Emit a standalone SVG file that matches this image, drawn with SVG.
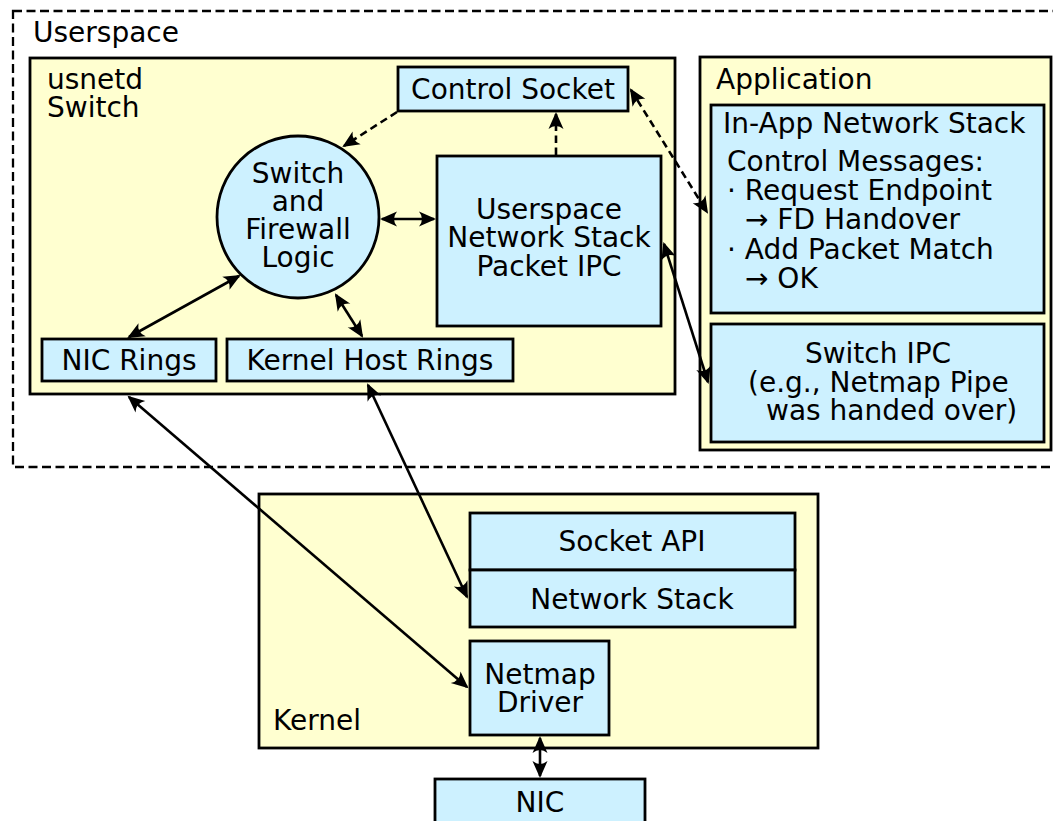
<svg xmlns="http://www.w3.org/2000/svg" width="1053" height="821" viewBox="0 0 1053 821">
  <defs>
    <style>
      .frame { fill: none; stroke: #000; stroke-width: 2.3; stroke-dasharray: 9 4.5; }
      .area { fill: #ffffd0; stroke: #000; stroke-width: 2.8; }
      .node { fill: #cdf1ff; stroke: #000; stroke-width: 2.8; }
      .lbl { font-family: "DejaVu Sans", "Noto Sans", sans-serif; font-size: 28px; fill: #000; }
      .mid { text-anchor: middle; }
      .link { fill: none; stroke: #000; stroke-width: 2.6; marker-end: url(#arrow); }
      .both { marker-start: url(#arrow); }
      .dash { stroke-dasharray: 7.5 4.5; }
    </style>
    <marker id="arrow" viewBox="-18 -10 22 20" refX="0" refY="0" markerWidth="22" markerHeight="20" markerUnits="userSpaceOnUse" orient="auto-start-reverse">
      <path d="M2,0 L-15,-7.5 Q-9,0 -15,7.5 Z" fill="#000"/>
    </marker>
  </defs>

  <rect width="1053" height="821" fill="#fff"/>

  <!-- userspace boundary -->
  <g id="userspace">
    <rect class="frame" x="13" y="11" width="1060" height="456"/>
    <text class="lbl" x="33" y="42">Userspace</text>
  </g>

  <!-- usnetd switch process -->
  <g id="usnetd">
    <rect class="area" x="30" y="58" width="645" height="336"/>
    <text class="lbl" x="47" y="89">usnetd</text>
    <text class="lbl" x="47" y="117">Switch</text>
  </g>

  <g id="control-socket">
    <rect class="node" x="398" y="67" width="230" height="44"/>
    <text class="lbl mid" x="513" y="99">Control Socket</text>
  </g>

  <g id="switch-logic">
    <circle class="node" cx="298" cy="217" r="81"/>
    <text class="lbl mid" x="298" y="183">Switch</text>
    <text class="lbl mid" x="298" y="211">and</text>
    <text class="lbl mid" x="298" y="239">Firewall</text>
    <text class="lbl mid" x="298" y="267">Logic</text>
  </g>

  <g id="userspace-stack-ipc">
    <rect class="node" x="437" y="156" width="224" height="170"/>
    <text class="lbl mid" x="549" y="219">Userspace</text>
    <text class="lbl mid" x="549" y="247">Network Stack</text>
    <text class="lbl mid" x="549" y="276">Packet IPC</text>
  </g>

  <g id="nic-rings">
    <rect class="node" x="42" y="339" width="174" height="42"/>
    <text class="lbl mid" x="129" y="370">NIC Rings</text>
  </g>

  <g id="host-rings">
    <rect class="node" x="227" y="339" width="286" height="42"/>
    <text class="lbl mid" x="370" y="370">Kernel Host Rings</text>
  </g>

  <!-- application process -->
  <g id="application">
    <rect class="area" x="700" y="57" width="351" height="393"/>
    <text class="lbl" x="716" y="89">Application</text>
  </g>

  <g id="in-app-stack">
    <rect class="node" x="711" y="105" width="333" height="208"/>
    <text class="lbl" x="723" y="133">In-App Network Stack</text>
    <text class="lbl" x="727" y="171">Control Messages:</text>
    <text class="lbl" x="727" y="200">· Request Endpoint</text>
    <text class="lbl" x="745" y="229">→ FD Handover</text>
    <text class="lbl" x="727" y="259">· Add Packet Match</text>
    <text class="lbl" x="745" y="288">→ OK</text>
  </g>

  <g id="switch-ipc">
    <rect class="node" x="711" y="324" width="333" height="118"/>
    <text class="lbl mid" x="878" y="363">Switch IPC</text>
    <text class="lbl" x="748" y="392">(e.g., Netmap Pipe</text>
    <text class="lbl" x="766" y="420">was handed over)</text>
  </g>

  <!-- kernel -->
  <g id="kernel">
    <rect class="area" x="259" y="494" width="559" height="254"/>
    <text class="lbl" x="273" y="730">Kernel</text>
  </g>

  <g id="socket-api">
    <rect class="node" x="470" y="513" width="325" height="57"/>
    <text class="lbl mid" x="632" y="551">Socket API</text>
  </g>

  <g id="network-stack">
    <rect class="node" x="470" y="570" width="325" height="57"/>
    <text class="lbl mid" x="632" y="609">Network Stack</text>
  </g>

  <g id="netmap-driver">
    <rect class="node" x="470" y="641" width="139" height="94"/>
    <text class="lbl mid" x="540" y="684">Netmap</text>
    <text class="lbl mid" x="540" y="712">Driver</text>
  </g>

  <g id="nic">
    <rect class="node" x="435" y="779" width="210" height="60"/>
    <text class="lbl mid" x="540" y="812">NIC</text>
  </g>

  <!-- connectors -->
  <g id="connectors">
    <path class="link dash" d="M397,112 L344,146"/>
    <path class="link dash" d="M556,155 L556,114"/>
    <path class="link dash both" d="M631,90 L707,212"/>
    <path class="link both" d="M382,219 L434,219"/>
    <path class="link both" d="M239,276 L129,337"/>
    <path class="link both" d="M336,295 L362,336"/>
    <path class="link both" d="M664,244 L708,382"/>
    <path class="link both" d="M129,397 L467,687"/>
    <path class="link both" d="M368,385 L467,597"/>
    <path class="link both" d="M540,738 L540,776"/>
  </g>
</svg>
